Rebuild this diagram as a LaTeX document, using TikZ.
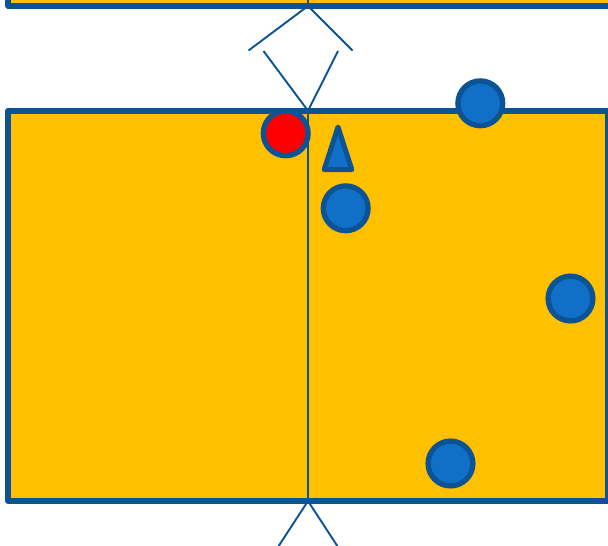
\documentclass[tikz,border=0pt]{standalone}
\definecolor{panelfill}{HTML}{FFC000}
\definecolor{edgeblue}{HTML}{0B5394}
\definecolor{discblue}{HTML}{1070C8}
\tikzset{
  panel/.style={draw=edgeblue,fill=panelfill,line width=5.6pt,line join=round},
  thin link/.style={draw=edgeblue,line width=1.9pt},
  disc/.style={circle,draw=edgeblue,line width=5.3pt,minimum size=44.8pt,inner sep=0pt,outer sep=0pt,fill=discblue},
  red disc/.style={disc,fill=red},
  cone/.style={draw=edgeblue,fill=discblue,line width=5pt,line join=round}
}
\begin{document}
\begin{tikzpicture}[x=1pt,y=-1pt]
\useasboundingbox (0,0) rectangle (608,546);
\clip (0,0) rectangle (608,546);
\fill[white] (0,0) rectangle (608,546);
% upper panel
\draw[panel] (8,-60) rectangle (612,5.8);
% main panel
\draw[panel] (8,110.8) rectangle (607.5,500.8);
% named anchors
\coordinate (topjoint) at (308,6);
\coordinate (midjoint) at (308,110.8);
\coordinate (lowjoint) at (308,501);
\coordinate (topstub) at (308,0);
\coordinate (a1) at (248.5,50.5);
\coordinate (a2) at (352.5,50.5);
\coordinate (b1) at (263.5,51);
\coordinate (b2) at (338,51);
\coordinate (c1) at (278,547);
\coordinate (c2) at (338,547);
\draw[thin link] (topstub) -- (topjoint);
\draw[thin link] (a1) -- (topjoint) -- (a2);
\draw[thin link] (b1) -- (midjoint) -- (b2);
\draw[thin link] (midjoint) -- (lowjoint);
\draw[thin link] (c1) -- (lowjoint) -- (c2);
% markers
\node[red disc] (r1) at (285.7,133.3) {};
\node[disc] (d1) at (345.7,208.3) {};
\node[disc] (d2) at (480.3,103.3) {};
\node[disc] (d3) at (570.5,298.5) {};
\node[disc] (d4) at (450.5,463.5) {};
\draw[thin link] (308,110.8) -- (308,158);
\draw[cone] (338,127) -- (351.8,169.6) -- (324.2,169.6) -- cycle;
\end{tikzpicture}
\end{document}
